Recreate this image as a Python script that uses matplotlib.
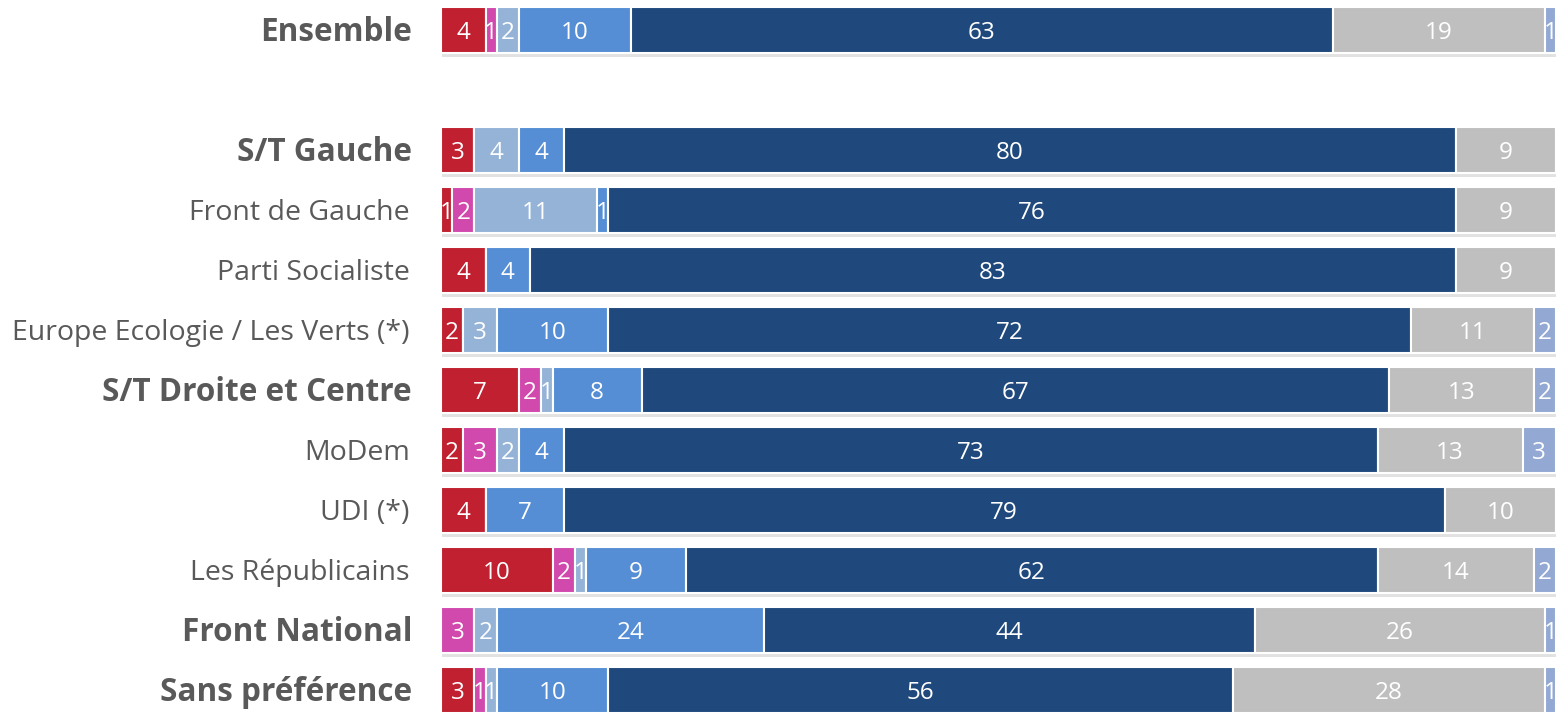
import matplotlib
matplotlib.use("Agg")
import matplotlib.pyplot as plt
import matplotlib.patheffects as pe
import numpy as np

categories = ["Ensemble", "", "S/T Gauche", "Front de Gauche", "Parti Socialiste",
              "Europe Ecologie / Les Verts (*)", "S/T Droite et Centre", "MoDem",
              "UDI (*)", "Les Républicains", "Front National", "Sans préférence"]
bold_rows = ["Ensemble", "S/T Gauche", "S/T Droite et Centre", "Front National", "Sans préférence"]

s1 = [4, 0, 3, 1, 4, 2, 7, 2, 4, 10, 0, 3]
s2 = [1, 0, 0, 2, 0, 0, 2, 3, 0, 2, 3, 1]
s3 = [2, 0, 4, 11, 0, 3, 1, 2, 0, 1, 2, 1]
s4 = [10, 0, 4, 1, 4, 10, 8, 4, 7, 9, 24, 10]
s5 = [63, 0, 80, 76, 83, 72, 67, 73, 79, 62, 44, 56]
s6 = [19, 0, 9, 9, 9, 11, 13, 13, 10, 14, 26, 28]
s7 = [1, 0, 0, 0, 0, 2, 2, 3, 0, 2, 1, 1]
series = [s1, s2, s3, s4, s5, s6, s7]
colors = ["#C0202F", "#D249AD", "#95B3D7", "#558ED5", "#1F497D", "#BFBFBF", "#93A9D4"]

plt.rcParams['font.family'] = ['Open Sans', 'DejaVu Sans']
fig = plt.figure(figsize=(15.58, 7.12), dpi=100)
ax = fig.add_axes([441/1558, 0, (1556-441)/1558, 1])

y = np.arange(len(categories))
left = np.zeros(len(categories))
shadow = [pe.SimplePatchShadow(offset=(1, -3), shadow_rgbFace="#8f8f8f", alpha=0.25), pe.Normal()]
for vals, col in zip(series, colors):
    vals = np.array(vals, dtype=float)
    mask = np.array([c != "" for c in categories])
    bars = ax.barh(y[mask], vals[mask], left=left[mask], height=0.77, color=col,
                   edgecolor="white", linewidth=1.5, zorder=2)
    for b in bars:
        b.set_path_effects(shadow)
    for yi, v, l in zip(y, vals, left):
        if v > 0 and categories[yi] != "":
            ax.text(l + v / 2, yi + 0.05, f"{int(v)}", ha="center", va="center",
                    color="white", fontsize=17.5, zorder=3)
    left = left + vals

ax.set_xlim(0, 100)
ax.set_ylim(11.367, -0.5)
ax.axis("off")

for yi, c in zip(y, categories):
    if c == "":
        continue
    if c in bold_rows:
        ax.text(-2.6, yi + 0.05, c, ha="right", va="center", fontsize=22.7, fontweight="bold",
                color="#595959", transform=ax.transData, clip_on=False)
    else:
        ax.text(-2.8, yi + 0.05, c, ha="right", va="center", fontsize=20.5, color="#595959",
                transform=ax.transData, clip_on=False)

fig.savefig("out.png", dpi=100)
